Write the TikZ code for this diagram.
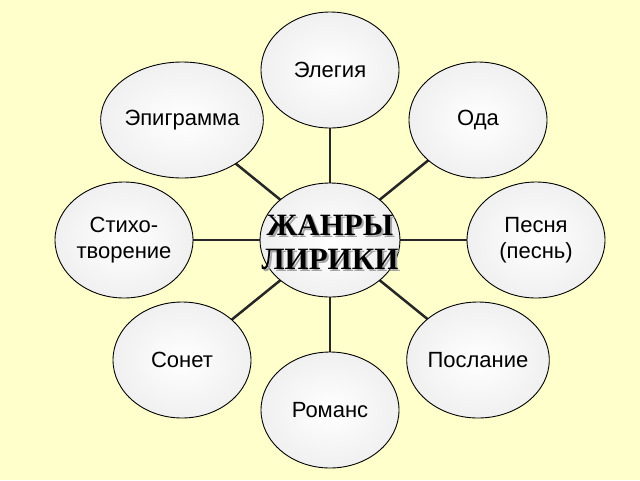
\documentclass[tikz,border=0pt]{standalone}
\usepackage{fontspec}
\setmainfont{Liberation Sans}
\newfontfamily\serifb{Liberation Serif}
\usetikzlibrary{shapes.geometric,shadows}
\pgfdeclarelayer{bgl}\pgfdeclarelayer{lines}
\pgfsetlayers{bgl,lines,main}
\begin{document}
\begin{tikzpicture}[x=1pt,y=-1pt,
  blob/.style={ellipse,draw=black,line width=0.9pt,minimum width=138pt,minimum height=116pt,inner sep=0pt,align=center,
    inner color=white,outer color=black!6,font=\fontsize{22}{26}\selectfont},
  spoke/.style={line width=2.5pt,draw=black!85}]
\begin{pgfonlayer}{bgl}
\fill[fill={rgb,255:red,255;green,255;blue,204}] (0,0) rectangle (640,480);
\end{pgfonlayer}
\node[blob,minimum width=140pt,minimum height=114pt] (c) at (330,240) {};
\node[font=\serifb\bfseries\fontsize{31}{34}\selectfont,align=center,text=black!35] at (332,244) {ЖАНРЫ\\ ЛИРИКИ};
\node[font=\serifb\bfseries\fontsize{31}{34}\selectfont,align=center] at (330,242) {ЖАНРЫ\\ ЛИРИКИ};
\node[blob] (a) at (330,70) {Элегия};
\node[blob] (b) at (182,120) {Эпиграмма};
\node[blob] (d) at (478,120) {Ода};
\node[blob] (e) at (124,240) {Стихо-\\творение};
\node[blob] (f) at (536,240) {Песня\\(песнь)};
\node[blob] (g) at (182,360) {Сонет};
\node[blob] (h) at (478,360) {Послание};
\node[blob] (i) at (330,410) {Романс};
\begin{pgfonlayer}{lines}
\foreach \n in {a,b,d,e,f,g,h,i} \draw[spoke] (c.center) -- (\n.center);
\end{pgfonlayer}
\end{tikzpicture}
\end{document}
